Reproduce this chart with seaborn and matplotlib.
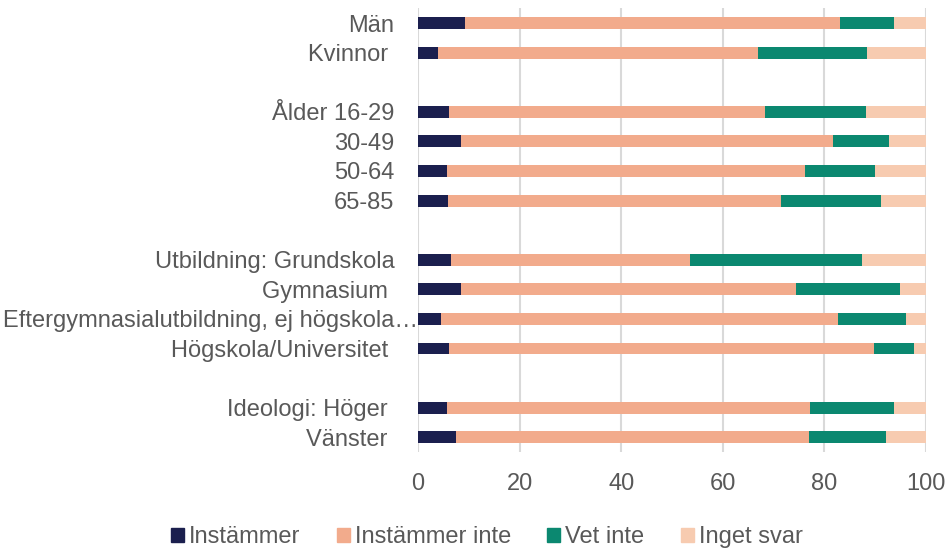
import matplotlib
matplotlib.use("Agg")
import matplotlib.pyplot as plt
import matplotlib.patches as mpatches
import matplotlib.transforms as mtransforms
import seaborn as sns
import pandas as pd
import numpy as np

categories = ["Män", "Kvinnor ", " ", "Ålder 16-29", "30-49", "50-64", "65-85", "  ",
              "Utbildning: Grundskola", "Gymnasium ", "Eftergymnasialutbildning, ej högskola…",
              "Högskola/Universitet ", "   ", "Ideologi: Höger ", "Vänster "]
groups = ["Män", "Kvinnor ", "Ålder 16-29", "30-49", "50-64", "65-85",
          "Utbildning: Grundskola", "Gymnasium ", "Eftergymnasialutbildning, ej högskola…",
          "Högskola/Universitet ", "Ideologi: Höger ", "Vänster "]
instammer      = [9.2, 4.0, 6.0, 8.4, 5.8, 5.9, 6.5, 8.4, 4.6, 6.1, 5.7, 7.4]
instammer_inte = [73.9, 62.9, 62.3, 73.3, 70.4, 65.5, 47.1, 66.0, 78.1, 83.6, 71.4, 69.6]
vet_inte       = [10.5, 21.4, 19.9, 11.0, 13.7, 19.7, 33.8, 20.4, 13.3, 8.0, 16.5, 15.1]
inget_svar     = [6.4, 11.7, 11.8, 7.3, 10.1, 8.9, 12.6, 5.2, 4.0, 2.3, 6.4, 7.9]
series_names = ["Instämmer", "Instämmer inte", "Vet inte", "Inget svar"]
colors = ["#1b1f4e", "#f2ab8c", "#0b8870", "#f7cbb0"]

sns.set_theme(style="white")
plt.rcParams["font.family"] = ["Liberation Sans", "DejaVu Sans"]
text_color = "#595959"

df = pd.DataFrame({"cat": groups, "s1": instammer, "s2": instammer_inte,
                   "s3": vet_inte, "s4": inget_svar})
vals = df[["s1", "s2", "s3", "s4"]].to_numpy()
cum = np.cumsum(vals, axis=1)
for i in range(4):
    df[f"c{i}"] = cum[:, i]

fig = plt.figure(figsize=(9.49, 5.5), dpi=100)
ax = fig.add_axes([0.4405, 0.178, 0.5353, 0.807])

for i in [3, 2, 1, 0]:
    sns.barplot(data=df, y="cat", x=f"c{i}", order=categories, color=colors[i],
                width=0.4, linewidth=0, errorbar=None, orient="h", ax=ax,
                saturation=1)

ax.set_xlim(0, 100)
ax.set_ylim(14.5, -0.5)
ax.set_xticks(np.arange(0, 101, 20))
ax.set_xlabel("")
ax.set_ylabel("")
ax.xaxis.grid(True, color="#d9d9d9", linewidth=1.5)
ax.yaxis.grid(False)
ax.set_axisbelow(True)
for s in ax.spines.values():
    s.set_visible(False)
ax.tick_params(axis="both", length=0, labelsize=17, colors=text_color)
ax.tick_params(axis="x", pad=15)
ax.tick_params(axis="y", pad=17)

# the long truncated label sits flush against the axis in the reference
for lbl in ax.get_yticklabels():
    if lbl.get_text().startswith("Eftergymnasial"):
        lbl.set_transform(lbl.get_transform() +
                          mtransforms.ScaledTranslation(24 / 100, 0, fig.dpi_scale_trans))

handles = [mpatches.Patch(color=c, label=n) for c, n in zip(colors, series_names)]
fig.legend(handles=handles, loc="lower center", bbox_to_anchor=(0.513, -0.035),
           ncol=4, frameon=False, fontsize=17, handlelength=0.55, handleheight=0.55,
           handletextpad=0.2, columnspacing=1.55, labelcolor=text_color)

fig.savefig("out.png", dpi=100)
